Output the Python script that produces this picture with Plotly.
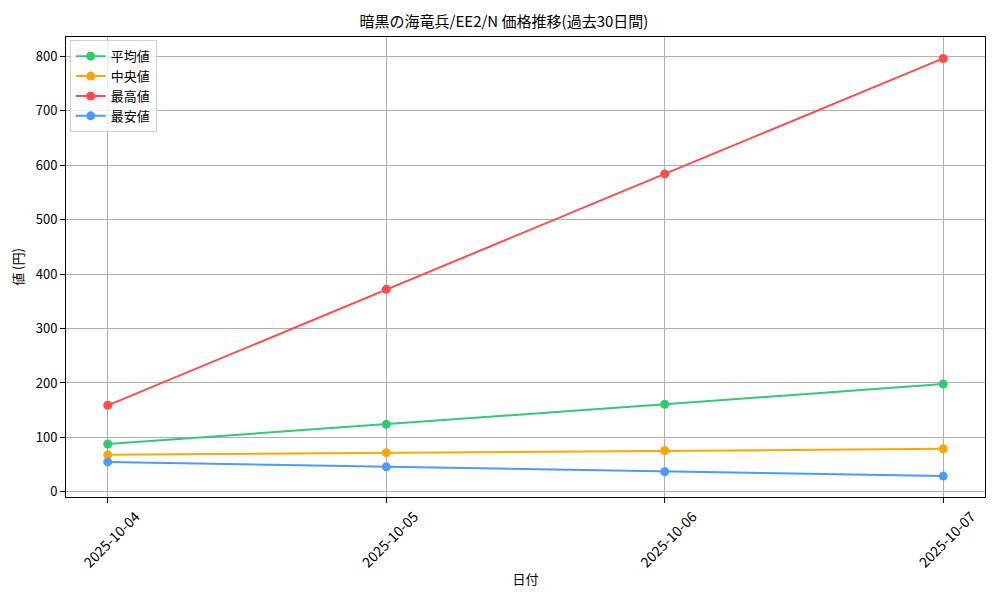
import plotly.graph_objects as go

# 日付と価格(円)
dates = ['2025-10-04', '2025-10-05', '2025-10-06', '2025-10-07']
avg_price = [88, 124, 161, 198]
median_price = [68, 72, 76, 79]
max_price = [159, 372, 584, 796]
min_price = [55, 46, 37, 29]

series = [
    ('平均値', avg_price, '#2ecc71'),
    ('中央値', median_price, '#ffa500'),
    ('最高値', max_price, '#ff4b4b'),
    ('最安値', min_price, '#4a9bff'),
]

font = 'Noto Sans CJK JP'

fig = go.Figure()
for name, values, color in series:
    fig.add_trace(go.Scatter(
        x=dates, y=values, name=name, mode='lines+markers',
        line=dict(color=color, width=2),
        marker=dict(color=color, size=9),
    ))

# the page body has an 8px margin, so the figure is a bit smaller than the window
fig.update_layout(
    width=992, height=592,
    margin=dict(l=58, r=15, t=29, b=103),
    paper_bgcolor='white', plot_bgcolor='white',
    font=dict(family=font, size=13, color='black'),
    title=dict(text='暗黒の海竜兵/EE2/N 価格推移(過去30日間)', x=0.5, xanchor='center',
               y=0.976, yanchor='middle', font=dict(size=15)),
    legend=dict(x=0.004, y=0.993, xanchor='left', yanchor='top',
                bgcolor='rgba(255,255,255,0.8)', bordercolor='#d0d0d0', borderwidth=1,
                font=dict(size=13), tracegroupgap=0, itemwidth=30),
    showlegend=True,
)

fig.update_xaxes(
    type='category', range=[-0.15, 3.15], automargin=False,
    showgrid=True, gridcolor='#b0b0b0', gridwidth=1,
    showline=True, linecolor='black', linewidth=1, mirror=True,
    ticks='outside', ticklen=5, tickcolor='black',
    tickangle=-45, ticklabelshift=28, tickfont=dict(size=14),
    title=dict(text='日付', font=dict(size=13), standoff=4),
)
fig.update_yaxes(
    range=[-9.4, 835.4], dtick=100, automargin=False,
    showgrid=True, gridcolor='#b0b0b0', gridwidth=1, zeroline=False,
    showline=True, linecolor='black', linewidth=1, mirror=True,
    ticks='outside', ticklen=5, tickcolor='black',
    title=dict(text='値 (円)', font=dict(size=13), standoff=10),
)

fig.write_html('out.html')
